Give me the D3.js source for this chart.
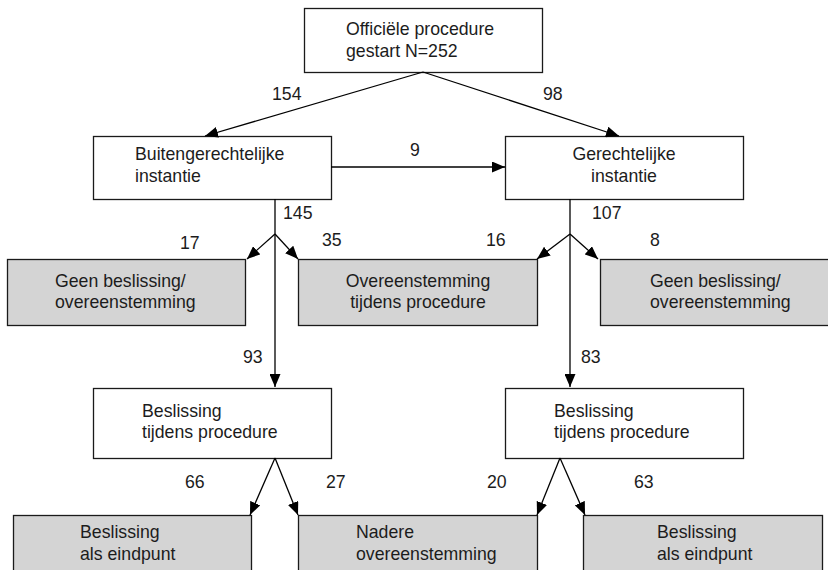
<!DOCTYPE html>
<html><head><meta charset="utf-8">
<script src="https://cdn.jsdelivr.net/npm/d3@7"></script>
<style>body{margin:0;background:#fff}svg{display:block}</style>
</head><body>
<svg id="c" width="828" height="570"></svg>
<script>
// ---- data ----
const nodeLabels = [
  ["Officiële procedure", "gestart N=252"],
  ["Buitengerechtelijke", "instantie"],
  ["Gerechtelijke", "instantie"],
  ["Geen beslissing/", "overeenstemming"],
  ["Overeenstemming", "tijdens procedure"],
  ["Geen beslissing/", "overeenstemming"],
  ["Beslissing", "tijdens procedure"],
  ["Beslissing", "tijdens procedure"],
  ["Beslissing", "als eindpunt"],
  ["Nadere", "overeenstemming"],
  ["Beslissing", "als eindpunt"]
];
const nodeEndpoint = [false, false, false, true, true, true, false, false, true, true, true];
const linkSource = [0, 0, 1, 1, 1, 1, 2, 2, 2, 6, 6, 7, 7];
const linkTarget = [1, 2, 2, 3, 4, 6, 4, 5, 7, 8, 9, 9, 10];
const linkValues = [154, 98, 9, 17, 35, 93, 16, 8, 83, 66, 27, 20, 63];
const trunkValues = [145, 107]; // totals leaving nodes 1 and 2 downward

// ---- layout (pixel geometry, separate from data) ----
const box = [
  {x:304, y:8,   w:238, h:64, tx:346, a:"start", b1:27, b2:49},
  {x:93,  y:136, w:238, h:63, tx:135, a:"start", b1:24, b2:46},
  {x:505, y:136, w:238, h:63, tx:624, a:"middle", b1:24, b2:46},
  {x:7,   y:259, w:238, h:66, tx:55,  a:"start", b1:28, b2:49},
  {x:298, y:259, w:239, h:66, tx:418, a:"middle", b1:28, b2:49},
  {x:600, y:259, w:240, h:66, tx:650, a:"start", b1:28, b2:49},
  {x:93,  y:388, w:238, h:70, tx:142, a:"start", b1:29, b2:50},
  {x:505, y:388, w:238, h:70, tx:554, a:"start", b1:29, b2:50},
  {x:13,  y:515, w:238, h:80, tx:80,  a:"start", b1:23, b2:45},
  {x:298, y:515, w:239, h:80, tx:356, a:"start", b1:23, b2:45},
  {x:583, y:515, w:239, h:80, tx:657, a:"start", b1:23, b2:45}
];
const linkGeom = [
  {p:[423,72,205,136], l:[272,100]},
  {p:[423,72,619,136], l:[543,100]},
  {p:[331,167,505,167], l:[410,156]},
  {p:[275,234,247,259], l:[180,249]},
  {p:[275,234,298,259], l:[322,246]},
  {p:[275,234,275,387], l:[243,363]},
  {p:[570,234,537,259], l:[486,246]},
  {p:[570,234,598,259], l:[650,246]},
  {p:[570,234,570,387], l:[581,363]},
  {p:[275,458,250,515], l:[185,488]},
  {p:[275,458,298,515], l:[326,488]},
  {p:[560,458,537,515], l:[487,488]},
  {p:[560,458,585,515], l:[634,488]}
];
const trunkGeom = [
  {p:[275,199,275,234], l:[283,219]},
  {p:[570,199,570,234], l:[592,219]}
];

const svg = d3.select("#c");
const font = "'Liberation Sans', Arial, sans-serif";
const fs = 17.7;
const ink = "#1c1c1c";

svg.append("defs").append("marker")
  .attr("id","ah").attr("viewBox","0 0 13 11")
  .attr("refX",13).attr("refY",5.5)
  .attr("markerWidth",13).attr("markerHeight",11)
  .attr("markerUnits","userSpaceOnUse")
  .attr("orient","auto")
  .append("path").attr("d","M0,0L13,5.5L0,11Z").attr("fill","#000");

const g = svg.append("g");
g.selectAll("rect").data(nodeLabels).join("rect")
  .attr("x",(d,i)=>box[i].x+0.5).attr("y",(d,i)=>box[i].y+0.5)
  .attr("width",(d,i)=>box[i].w).attr("height",(d,i)=>box[i].h)
  .attr("fill",(d,i)=>nodeEndpoint[i] ? "#d4d4d4" : "#fff")
  .attr("stroke","#1a1a1a").attr("stroke-width",1.3);

g.selectAll("text.nl").data(nodeLabels).join("text")
  .attr("class","nl")
  .attr("font-family",font).attr("font-size",fs).attr("fill",ink)
  .attr("text-anchor",(d,i)=>box[i].a)
  .each(function(d,i){
    const t = d3.select(this);
    d.forEach((line,j)=>{
      t.append("tspan").attr("x",box[i].tx)
        .attr("y",box[i].y + (j===0 ? box[i].b1 : box[i].b2))
        .text(line);
    });
  });

svg.selectAll("line.tr").data(trunkValues).join("line")
  .attr("class","tr")
  .attr("x1",(d,i)=>trunkGeom[i].p[0]).attr("y1",(d,i)=>trunkGeom[i].p[1])
  .attr("x2",(d,i)=>trunkGeom[i].p[2]).attr("y2",(d,i)=>trunkGeom[i].p[3])
  .attr("stroke","#000").attr("stroke-width",1.3);
svg.selectAll("text.tv").data(trunkValues).join("text")
  .attr("class","tv")
  .attr("x",(d,i)=>trunkGeom[i].l[0]).attr("y",(d,i)=>trunkGeom[i].l[1])
  .attr("font-family",font).attr("font-size",fs).attr("fill",ink)
  .text(d=>d);

svg.selectAll("line.lk").data(linkValues).join("line")
  .attr("class","lk")
  .attr("x1",(d,i)=>linkGeom[i].p[0]).attr("y1",(d,i)=>linkGeom[i].p[1])
  .attr("x2",(d,i)=>linkGeom[i].p[2]).attr("y2",(d,i)=>linkGeom[i].p[3])
  .attr("stroke","#000").attr("stroke-width",1.3)
  .attr("marker-end","url(#ah)");
svg.selectAll("text.lv").data(linkValues).join("text")
  .attr("class","lv")
  .attr("x",(d,i)=>linkGeom[i].l[0]).attr("y",(d,i)=>linkGeom[i].l[1])
  .attr("font-family",font).attr("font-size",fs).attr("fill",ink)
  .text(d=>d);
</script>
</body></html>
